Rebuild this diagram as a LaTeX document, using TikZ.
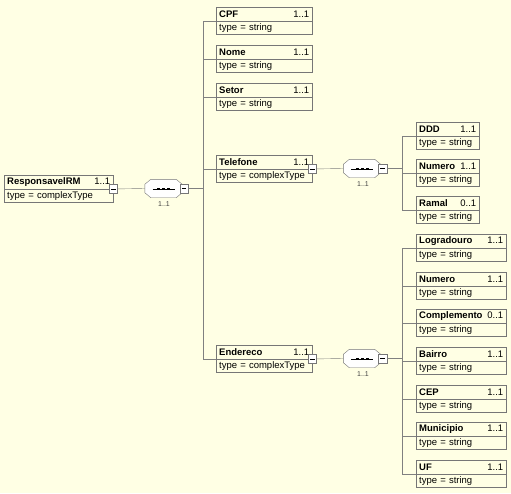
\documentclass[tikz,border=0pt]{standalone}
\usepackage{fontspec}
\setmainfont{Liberation Sans}

\definecolor{paper}{RGB}{255,255,228}
\definecolor{linegray}{RGB}{128,128,128}
\definecolor{boxgray}{RGB}{118,118,118}

\newcommand{\boxfont}{\fontsize{9.5}{11}\selectfont\hyphenpenalty=10000\relax}

\tikzset{
  head/.style={draw=boxgray, anchor=north west, minimum height=13.5pt,
    inner xsep=3pt, inner ysep=0pt, text width=#1, align=left,
    font=\boxfont},
  minus/.style={draw=boxgray, fill=white, minimum size=8.5pt, inner sep=0pt},
  seqbox/.style={minimum width=37pt, minimum height=18pt, inner sep=0pt},
  seqline/.style={draw=boxgray, fill=white},
  conn/.style={draw=linegray},
  card/.style={font=\fontsize{7}{8}\selectfont, text=black!75, inner sep=0pt}
}

\newcommand{\minussign}{\rule[0pt]{4.5pt}{0.6pt}}
% octagon and sequence mark of a compositor node
\newcommand{\seqmark}[1]{%
  \path[seqline] ([xshift=6pt]#1.north west) -- ([xshift=-6pt]#1.north east)
    -- ([yshift=-5pt]#1.north east) -- ([yshift=5pt]#1.south east)
    -- ([xshift=-6pt]#1.south east) -- ([xshift=6pt]#1.south west)
    -- ([yshift=5pt]#1.south west) -- ([yshift=-5pt]#1.north west) -- cycle;
  \draw[black, line width=1.1pt] ([xshift=-11pt,yshift=-0.8pt]#1.center) -- ([xshift=11pt,yshift=-0.8pt]#1.center);
  \fill[black] ([xshift=-6.5pt,yshift=-0.8pt]#1.center) rectangle ([xshift=-3.5pt,yshift=0.8pt]#1.center);
  \fill[black] ([xshift=-1.5pt,yshift=-0.8pt]#1.center) rectangle ([xshift=1.5pt,yshift=0.8pt]#1.center);
  \fill[black] ([xshift=3.5pt,yshift=-0.8pt]#1.center) rectangle ([xshift=6.5pt,yshift=0.8pt]#1.center);
}

\begin{document}
\begin{tikzpicture}[x=1pt,y=-1pt]
\path[use as bounding box, fill=paper] (0,0) rectangle (511,493);

% root element
\node[head=103pt] (rrm) at (4,175) {\textbf{ResponsavelRM}\hfill 1..1};
\node[head=103pt] (rrmt) at (rrm.south west) {type = complexType};
\node[minus] (rrmm) at (rrm.south east) {\minussign};

% sequence of ResponsavelRM
\node[seqbox] (c0) at (163.5,188.5) {};
\seqmark{c0}
\node[minus] (c0m) at ([xshift=2pt]c0.east) {\minussign};
\node[card] (c0c) at (164,204) {1..1};
\coordinate (b0) at (203,188.5);

% children
\node[head=90pt] (cpf) at (216,7) {\textbf{CPF}\hfill 1..1};
\node[head=90pt] (cpft) at (cpf.south west) {type = string};
\node[head=90pt] (nome) at (216,45) {\textbf{Nome}\hfill 1..1};
\node[head=90pt] (nomet) at (nome.south west) {type = string};
\node[head=90pt] (setor) at (216,83) {\textbf{Setor}\hfill 1..1};
\node[head=90pt] (setort) at (setor.south west) {type = string};
\node[head=90pt] (tel) at (216,155) {\textbf{Telefone}\hfill 1..1};
\node[head=90pt] (telt) at (tel.south west) {type = complexType};
\node[minus] (telm) at (tel.south east) {\minussign};
\node[head=90pt] (end) at (216,345) {\textbf{Endereco}\hfill 1..1};
\node[head=90pt] (endt) at (end.south west) {type = complexType};
\node[minus] (endm) at (end.south east) {\minussign};

% sequence of Telefone
\node[seqbox] (c1) at (362,168.5) {};
\seqmark{c1}
\node[minus] (c1m) at ([xshift=2pt]c1.east) {\minussign};
\node[card] (c1c) at (363,184.5) {1..1};
\coordinate (b1) at (402,168.5);

\node[head=57pt] (ddd) at (416,122) {\textbf{DDD}\hfill 1..1};
\node[head=57pt] (dddt) at (ddd.south west) {type = string};
\node[head=57pt] (tnum) at (416,159) {\textbf{Numero}\hfill 1..1};
\node[head=57pt] (tnumt) at (tnum.south west) {type = string};
\node[head=57pt] (ramal) at (416,196) {\textbf{Ramal}\hfill 0..1};
\node[head=57pt] (ramalt) at (ramal.south west) {type = string};

% sequence of Endereco
\node[seqbox] (c2) at (362,358.5) {};
\seqmark{c2}
\node[minus] (c2m) at ([xshift=2pt]c2.east) {\minussign};
\node[card] (c2c) at (363,374.5) {1..1};
\coordinate (b2) at (402,358.5);

\node[head=84pt] (logr) at (416,234) {\textbf{Logradouro}\hfill 1..1};
\node[head=84pt] (logrt) at (logr.south west) {type = string};
\node[head=84pt] (enum) at (416,272) {\textbf{Numero}\hfill 1..1};
\node[head=84pt] (enumt) at (enum.south west) {type = string};
\node[head=84pt] (compl) at (416,309) {\textbf{Complemento}\hfill 0..1};
\node[head=84pt] (complt) at (compl.south west) {type = string};
\node[head=84pt] (bairro) at (416,347) {\textbf{Bairro}\hfill 1..1};
\node[head=84pt] (bairrot) at (bairro.south west) {type = string};
\node[head=84pt] (cep) at (416,385) {\textbf{CEP}\hfill 1..1};
\node[head=84pt] (cept) at (cep.south west) {type = string};
\node[head=84pt] (mun) at (416,422) {\textbf{Municipio}\hfill 1..1};
\node[head=84pt] (munt) at (mun.south west) {type = string};
\node[head=84pt] (uf) at (416,460) {\textbf{UF}\hfill 1..1};
\node[head=84pt] (uft) at (uf.south west) {type = string};

% connectors
\draw[conn] (rrmm.east) -- (c0.west);
\draw[conn] (c0m.east) -- (b0);
\draw[conn] (b0) |- (cpf.south west);
\draw[conn] (b0) |- (nome.south west);
\draw[conn] (b0) |- (setor.south west);
\draw[conn] (b0) |- (tel.south west);
\draw[conn] (b0) |- (end.south west);

\draw[conn] (telm.east) -- (c1.west);
\draw[conn] (c1m.east) -- (b1);
\draw[conn] (b1) |- (ddd.south west);
\draw[conn] (b1) |- (tnum.south west);
\draw[conn] (b1) |- (ramal.south west);

\draw[conn] (endm.east) -- (c2.west);
\draw[conn] (c2m.east) -- (b2);
\draw[conn] (b2) |- (logr.south west);
\draw[conn] (b2) |- (enum.south west);
\draw[conn] (b2) |- (compl.south west);
\draw[conn] (b2) |- (bairro.south west);
\draw[conn] (b2) |- (cep.south west);
\draw[conn] (b2) |- (mun.south west);
\draw[conn] (b2) |- (uf.south west);
\end{tikzpicture}
\end{document}
